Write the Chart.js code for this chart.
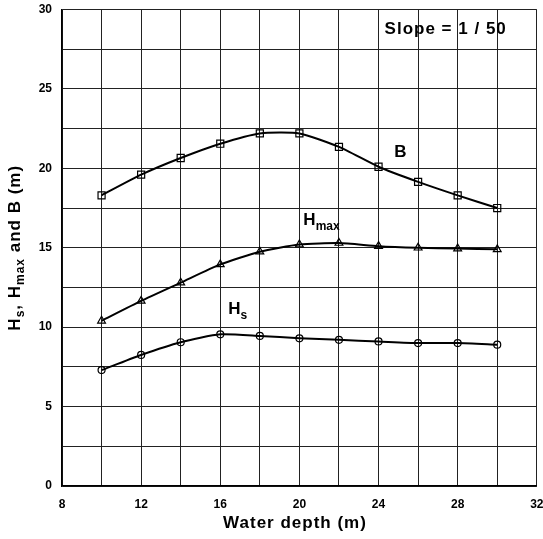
<!DOCTYPE html>
<html>
<head>
<meta charset="utf-8">
<script src="https://cdn.jsdelivr.net/npm/chart.js@4/dist/chart.umd.min.js"></script>
<style>
  html, body { margin: 0; padding: 0; background: #fff; }
  #wrap { width: 543px; height: 539px; position: relative; }
</style>
</head>
<body>
<div id="wrap"><canvas id="chart"></canvas></div>
<script>
// water depth (m)
const depth = [10, 12, 14, 16, 18, 20, 22, 24, 26, 28, 30];
// series
const bValues    = [18.3, 19.6, 20.65, 21.55, 22.2, 22.2, 21.35, 20.1, 19.15, 18.3, 17.5];
const hmaxValues = [10.4, 11.65, 12.8, 13.95, 14.75, 15.2, 15.3, 15.1, 15.0, 14.95, 14.9];
const hsValues   = [7.3, 8.25, 9.05, 9.55, 9.45, 9.3, 9.2, 9.1, 9.0, 9.0, 8.9];

// curve labels: [main, subscript, x, y] in data units
const curveLabels = [
  ['B', '', 24.8, 21.0],
  ['H', 'max', 20.2, 16.7],
  ['H', 's', 16.4, 11.1],
];

const FONT = '"Liberation Sans", Arial, sans-serif';

const toPoints = (vals) => vals.map((v, i) => ({ x: depth[i], y: v }));

function drawSubText(ctx, parts, x, y, align, size) {
  // parts: [[text, isSub], ...]
  const mainFont = 'bold ' + size + 'px ' + FONT;
  const subFont = 'bold ' + Math.round(size * 0.7) + 'px ' + FONT;
  let total = 0;
  parts.forEach(([t, sub]) => {
    ctx.font = sub ? subFont : mainFont;
    total += ctx.measureText(t).width;
  });
  let cx = align === 'center' ? x - total / 2 : x;
  parts.forEach(([t, sub]) => {
    ctx.font = sub ? subFont : mainFont;
    ctx.fillText(t, cx, sub ? y + size * 0.35 : y);
    cx += ctx.measureText(t).width;
  });
}

const textPlugin = {
  id: 'textPlugin',
  afterDraw(chart) {
    const { ctx, chartArea, scales } = chart;
    ctx.save();
    ctx.fillStyle = '#000';
    ctx.textBaseline = 'middle';
    ctx.textAlign = 'left';

    // y axis title with subscripts
    ctx.save();
    ctx.letterSpacing = '1px';
    ctx.translate(15, (chartArea.top + chartArea.bottom) / 2);
    ctx.rotate(-Math.PI / 2);
    drawSubText(ctx, [['H', false], ['s', true], [', H', false], ['max', true], [' and B (m)', false]], 0, 0, 'center', 17);
    ctx.restore();

    // x axis title
    ctx.save();
    ctx.letterSpacing = '1px';
    drawSubText(ctx, [['Water depth (m)', false]], 295, 523, 'center', 17);
    ctx.restore();

    // curve labels
    curveLabels.forEach(([main, sub, x, y]) => {
      const px = scales.x.getPixelForValue(x);
      const py = scales.y.getPixelForValue(y);
      const parts = [[main, false]];
      if (sub) parts.push([sub, true]);
      drawSubText(ctx, parts, px, py, 'left', 17);
    });

    // slope note
    ctx.letterSpacing = '1px';
    ctx.font = 'bold 17px ' + FONT;
    ctx.textAlign = 'right';
    ctx.fillText('Slope = 1 / 50', chartArea.right - 30, chartArea.top + 20);
    ctx.restore();
  }
};

const lineStyle = {
  borderColor: '#000',
  backgroundColor: '#fff',
  pointBorderColor: '#000',
  pointBackgroundColor: 'rgba(255,255,255,0)',
  borderWidth: 2,
  pointBorderWidth: 1.2,
  tension: 0.2,
  fill: false,
};

new Chart(document.getElementById('chart'), {
  type: 'line',
  data: {
    datasets: [
      { ...lineStyle, label: 'B', data: toPoints(bValues), pointStyle: 'rect', pointRadius: 5 },
      { ...lineStyle, label: 'Hmax', data: toPoints(hmaxValues), pointStyle: 'triangle', pointRadius: 4.5 },
      { ...lineStyle, label: 'Hs', data: toPoints(hsValues), pointStyle: 'circle', pointRadius: 3.5 },
    ],
  },
  options: {
    responsive: true,
    maintainAspectRatio: false,
    animation: false,
    layout: { padding: { top: 9.5, right: 5, left: 0, bottom: 0 } },
    plugins: { legend: { display: false }, tooltip: { enabled: false } },
    scales: {
      x: {
        type: 'linear',
        min: 8, max: 32,
        afterFit: (s) => { s.height = 53; s.paddingLeft = 0; s.paddingRight = 0; },
        border: { color: '#000', width: 1.5 },
        grid: { color: '#222', lineWidth: 1, drawTicks: false },
        ticks: {
          stepSize: 2, autoSkip: false, maxRotation: 0, padding: 11, color: '#000',
          font: { family: FONT, size: 12, weight: 'bold' },
          callback: (v) => (v % 4 === 0 ? v : ''),
        },
      },
      y: {
        min: 0, max: 30,
        afterFit: (s) => { s.width = 62; s.paddingTop = 0; s.paddingBottom = 0; },
        border: { color: '#000', width: 1.5 },
        grid: { color: '#222', lineWidth: 1, drawTicks: false },
        ticks: {
          stepSize: 2.5, autoSkip: false, padding: 10, color: '#000',
          font: { family: FONT, size: 12, weight: 'bold' },
          callback: (v) => (v % 5 === 0 ? v : ''),
        },
      },
    },
  },
  plugins: [textPlugin],
});
</script>
</body>
</html>
